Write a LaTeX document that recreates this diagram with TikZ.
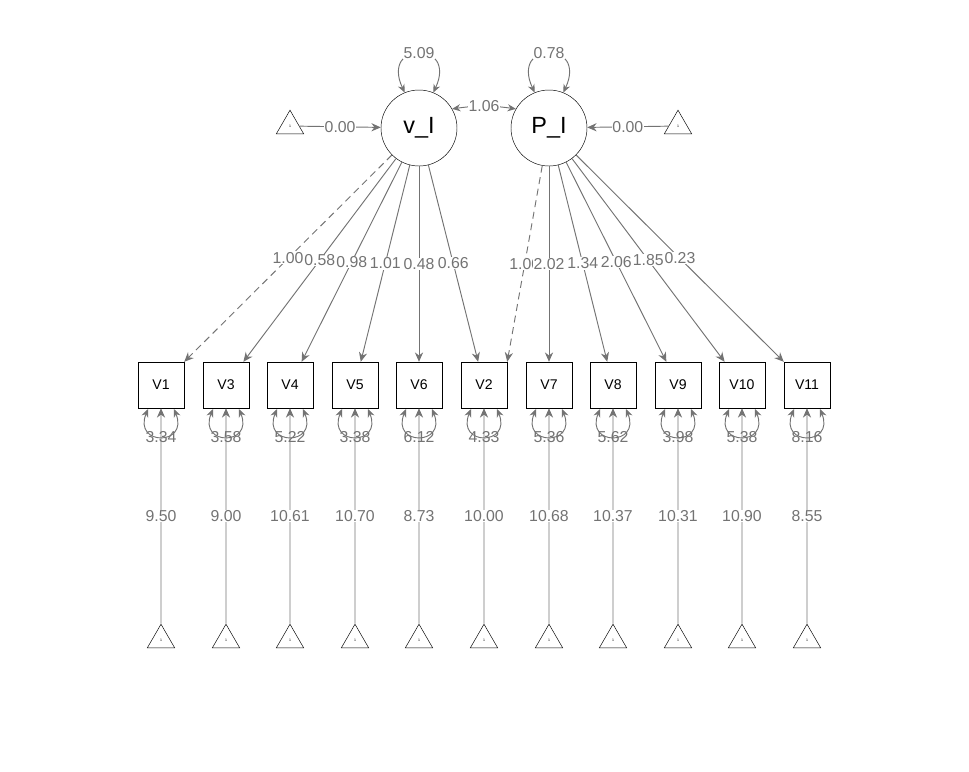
\documentclass[tikz,border=0pt]{standalone}
\usepackage{fontspec}
\setmainfont{Liberation Sans}
\usetikzlibrary{shapes.geometric,arrows.meta}

\tikzset{
  lat/.style={circle,draw,minimum size=2.28cm,inner sep=0pt,font=\fontsize{20}{20}\selectfont},
  man/.style={rectangle,draw,minimum size=1.38cm,inner sep=0pt,font=\fontsize{12}{12}\selectfont},
  one/.style={regular polygon,regular polygon sides=3,draw,minimum size=0.95cm,inner sep=0pt,font=\fontsize{3}{3}\selectfont},
  edge/.style={draw=black!55,line width=0.8pt,-{Stealth[length=8pt,width=7pt]}},
  both/.style={{Stealth[length=7pt,width=6pt]}-{Stealth[length=7pt,width=6pt]}},
  dsh/.style={dash pattern=on 6pt off 4pt},
  lbl/.style={fill=white,inner sep=0.4pt,text=black!55,font=\fontsize{13.5}{13.5}\selectfont}
}

\begin{document}
\begin{tikzpicture}[x=0.03cm,y=-0.03cm]
  \useasboundingbox (0,0) rectangle (969,771);
  % latent variables
  \node[lat] (vI) at (419,128) {v\_I};
  \node[lat] (PI) at (549,128) {P\_I};
  \node[one] (tvI) at (290,126) {1};
  \node[one] (tPI) at (678,126) {1};
  \draw[edge] (tvI) -- node[lbl] {0.00} (vI);
  \draw[edge] (tPI) -- node[lbl] {0.00} (PI);
  \draw[edge,both] (vI.30) to[bend left=8] node[lbl] {1.06} (PI.150);
  \draw[edge,both] (vI.112) .. controls (380,40) and (458,40) .. node[lbl,pos=0.5] {5.09} (vI.68);
  \draw[edge,both] (PI.112) .. controls (510,40) and (588,40) .. node[lbl,pos=0.5] {0.78} (PI.68);
  % observed variables
  \foreach \n/\x/\res/\int in {V1/161/3.34/9.50, V3/226/3.58/9.00,
      V4/290/5.22/10.61, V5/355/3.38/10.70, V6/419/6.12/8.73,
      V7/549/5.36/10.68, V8/613/5.62/10.37, V9/678/3.98/10.31,
      V10/742/5.38/10.90, V11/807/8.16/8.55, V2/484/4.33/10.00} {
    \node[man] (\n) at (\x,385) {\n};
    \node[one] (t\n) at (\x,640) {1};
    \draw[edge] (t\n) -- node[lbl] {\int} (\n);
    \draw[edge,both] (\x-13,409) .. controls (\x-28,446) and (\x+28,446) .. node[lbl,pos=0.5,fill=none] {\res} (\x+13,409);
  }
  \draw[edge,dsh] (vI) -- node[lbl,pos=0.5] {1.00} (V1.north east);
  \foreach \n/\load in {V3/0.58, V4/0.98, V5/1.01, V6/0.48, V2/0.66}
    \draw[edge] (vI) -- node[lbl,pos=0.5] {\load} (\n);
  \draw[edge,dsh] (PI) -- node[lbl,pos=0.5] {1.00} (V2.north east);
  \foreach \n/\load in {V7/2.02, V8/1.34, V9/2.06, V10/1.85}
    \draw[edge] (PI) -- node[lbl,pos=0.5] {\load} (\n);
  \draw[edge] (PI) -- node[lbl,pos=0.5] {0.23} (V11.north west);
\end{tikzpicture}
\end{document}
